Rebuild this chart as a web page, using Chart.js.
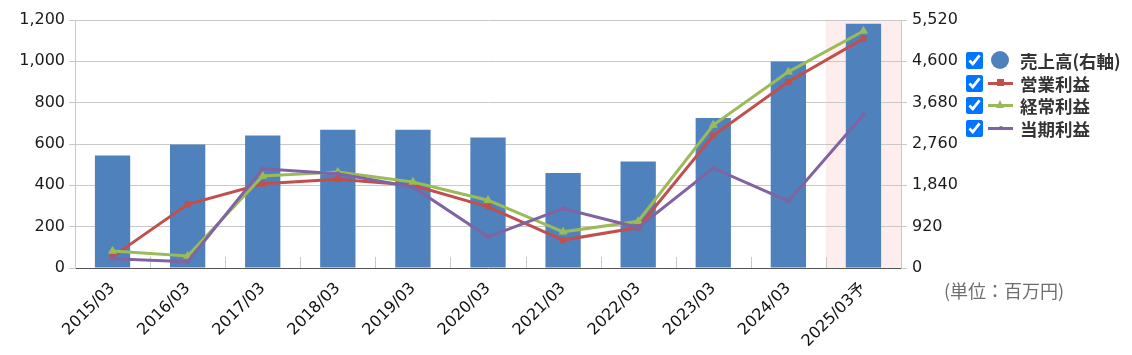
<!DOCTYPE html>
<html>
<head>
<meta charset="utf-8">
<script src="https://cdn.jsdelivr.net/npm/chart.js@4"></script>
<style>
  html, body { margin: 0; padding: 0; background: #fff; }
  #wrap { position: relative; width: 1132px; height: 355px; }
  canvas { position: absolute; left: 0; top: 0; }
  .lg { position: absolute; left: 966px; height: 22px; display: flex; align-items: center;
        font-family: "Noto Sans CJK JP", "DejaVu Sans", sans-serif; font-weight: bold; font-size: 17.5px; color: #333; white-space: nowrap; }
  .lg input { width: 17px; height: 17px; margin: 0; accent-color: #0075ff; }
  .mk { position: relative; width: 25px; height: 22px; margin: 0 7px 0 5px; }
  .mk .ln { position: absolute; left: 0; right: 0; top: 9.5px; height: 3px; }
  .mk .pt { position: absolute; }
  #unit { position: absolute; left: 944px; top: 277px; font-family: "Noto Sans CJK JP", sans-serif; font-size: 18px; color: #6e6e6e; white-space: nowrap; }
</style>
</head>
<body>
<div id="wrap">
  <canvas id="c" width="1132" height="355"></canvas>
  <div class="lg" style="top:49px"><input type="checkbox" checked><span class="mk"><span class="pt" style="left:3px;top:2px;width:18px;height:18px;border-radius:50%;background:#4f81bd"></span></span><span id="l0"></span></div>
  <div class="lg" style="top:72px"><input type="checkbox" checked><span class="mk"><span class="ln" style="background:#c0504d"></span><span class="pt" style="left:9px;top:7px;width:7px;height:7px;background:#c0504d"></span></span><span id="l1"></span></div>
  <div class="lg" style="top:94.5px"><input type="checkbox" checked><span class="mk"><span class="ln" style="background:#9bbb59"></span><span class="pt" style="left:8px;top:5px;width:0;height:0;border-left:4.5px solid transparent;border-right:4.5px solid transparent;border-bottom:8px solid #9bbb59"></span></span><span id="l2"></span></div>
  <div class="lg" style="top:117px"><input type="checkbox" checked><span class="mk"><span class="ln" style="background:#8064a2"></span><span class="pt" style="left:10.5px;top:8.5px;width:4px;height:4px;border-radius:50%;background:#8064a2"></span></span><span id="l3"></span></div>
  <div id="unit">(単位：百万円)</div>
</div>
<script>
const categories = ["2015/03","2016/03","2017/03","2018/03","2019/03","2020/03","2021/03","2022/03","2023/03","2024/03","2025/03予"];
const seriesNames = ["売上高(右軸)","営業利益","経常利益","当期利益"];
const sales = [2505, 2750, 2950, 3075, 3075, 2905, 2113, 2372, 3341, 4596, 5438];
const operatingProfit = [55, 308, 408, 430, 400, 296, 135, 196, 641, 901, 1110];
const ordinaryProfit = [82, 58, 445, 464, 416, 328, 175, 226, 692, 949, 1147];
const netProfit = [45, 30, 480, 456, 392, 151, 288, 196, 483, 323, 742];
const leftTicks = [0, 200, 400, 600, 800, 1000, 1200];
const rightTicks = [0, 920, 1840, 2760, 3680, 4600, 5520];
const forecastIndex = 10;

seriesNames.forEach((n, i) => { document.getElementById('l' + i).textContent = n; });

const FONT = '"DejaVu Sans", "Noto Sans CJK JP", sans-serif';
const GRID = '#c8c8c8';

const deco = {
  id: 'deco',
  beforeDraw(chart) {
    const x = chart.scales.x, ca = chart.chartArea, ctx = chart.ctx;
    const step = x.width / categories.length;
    const x0 = x.getPixelForValue(forecastIndex) - step / 2;
    ctx.save();
    ctx.fillStyle = '#fdeded';
    ctx.fillRect(x0, ca.top, ca.right - x0, ca.bottom - ca.top);
    ctx.restore();
  },
  beforeDatasetsDraw(chart) {
    const x = chart.scales.x, ca = chart.chartArea, ctx = chart.ctx;
    const step = x.width / categories.length;
    ctx.save();
    ctx.strokeStyle = GRID;
    ctx.lineWidth = 1;
    for (let i = 1; i < categories.length; i++) {
      const px = Math.round(x.getPixelForValue(i) - step / 2) + 0.5;
      ctx.beginPath();
      ctx.moveTo(px, ca.bottom - 11);
      ctx.lineTo(px, ca.bottom);
      ctx.stroke();
    }
    ctx.restore();
  }
};

const lineDs = (label, data, color, style, r) => ({
  type: 'line', label, data, yAxisID: 'y', order: 0,
  borderColor: color, backgroundColor: color, borderWidth: 3,
  pointStyle: style, pointRadius: r, pointBorderWidth: 1, tension: 0
});

new Chart(document.getElementById('c'), {
  type: 'bar',
  data: {
    labels: categories,
    datasets: [
      lineDs(seriesNames[3], netProfit, '#8064a2', 'circle', 2),
      lineDs(seriesNames[2], ordinaryProfit, '#9bbb59', 'triangle', 4.5),
      lineDs(seriesNames[1], operatingProfit, '#c0504d', 'rect', 3.5),
      { type: 'bar', label: seriesNames[0], data: sales, yAxisID: 'y1', order: 1,
        backgroundColor: '#4f81bd', categoryPercentage: 1, barPercentage: 0.47 }
    ]
  },
  options: {
    responsive: false, animation: false, locale: 'en-US',
    layout: { padding: { top: 20, right: 171, left: 0, bottom: 0 } },
    plugins: { legend: { display: false }, tooltip: { enabled: false } },
    scales: {
      x: {
        grid: { display: false, drawTicks: false },
        border: { display: true, color: '#555', dash: [4, 3], width: 1 },
        ticks: { autoSkip: false, minRotation: 45, maxRotation: 45, padding: 11,
                 color: '#111', font: { family: FONT, size: 16 } },
        afterFit(s) { s.height = 87; }
      },
      y: {
        position: 'left', min: 0, max: 1200,
        afterBuildTicks(s) { s.ticks = leftTicks.map(v => ({ value: v })); },
        grid: { color: GRID, tickLength: 6 },
        border: { color: GRID },
        ticks: { padding: 4, color: '#1a1a1a', font: { family: FONT, size: 16 } },
        afterFit(s) { s.width = 75; }
      },
      y1: {
        position: 'right', min: 0, max: 5520,
        afterBuildTicks(s) { s.ticks = rightTicks.map(v => ({ value: v })); },
        grid: { drawOnChartArea: false, color: GRID, tickLength: 6 },
        border: { color: GRID },
        ticks: { padding: 5, color: '#1a1a1a', font: { family: FONT, size: 16 } },
        afterFit(s) { s.width = 60; }
      }
    }
  },
  plugins: [deco]
});
</script>
</body>
</html>
